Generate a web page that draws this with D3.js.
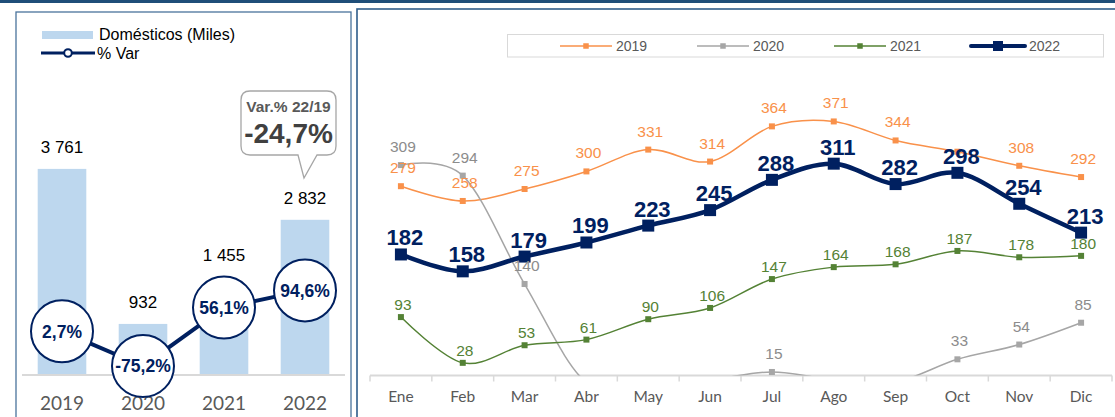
<!DOCTYPE html>
<html>
<head>
<meta charset="utf-8">
<script src="https://cdn.jsdelivr.net/npm/d3@7"></script>
<style>
  body { margin: 0; background: #fff; }
  text { font-family: "Liberation Sans", Arial, sans-serif; }
</style>
</head>
<body>
<div id="chart"></div>
<script>
// ---- data ----
var years = ["2019", "2020", "2021", "2022"];
var domesticos = [3761, 932, 1455, 2832];
var varPct = [2.7, -75.2, 56.1, 94.6];
var varLabels = ["2,7%", "-75,2%", "56,1%", "94,6%"];
var calloutTitle = "Var.% 22/19";
var calloutValue = "-24,7%";

var months = ["Ene", "Feb", "Mar", "Abr", "May", "Jun", "Jul", "Ago", "Sep", "Oct", "Nov", "Dic"];
var v2019 = [279, 258, 275, 300, 331, 314, 364, 371, 344, 328, 308, 292];
var v2020 = [309, 294, 140, 0, 0, 4, 15, 4, 1, 33, 54, 85];
var v2021 = [93, 28, 53, 61, 90, 106, 147, 164, 168, 187, 178, 180];
var v2022 = [182, 158, 179, 199, 223, 245, 288, 311, 282, 298, 254, 213];

var series = [
  { name: "2019", values: v2019, color: "#f9914a", label: "#f9914a", width: 1.5, mark: 6, dy: -13, bold: false, hide: [9] },
  { name: "2020", values: v2020, color: "#a6a6a6", label: "#8c8c8c", width: 1.5, mark: 6, dy: -13, bold: false, hide: [] },
  { name: "2021", values: v2021, color: "#548235", label: "#548235", width: 1.5, mark: 6, dy: -7, bold: false, hide: [] },
  { name: "2022", values: v2022, color: "#002060", label: "#002060", width: 4.5, mark: 12, dy: -9, bold: true, hide: [] }
];

var W = 1115, H = 417;
var svg = d3.select("#chart").append("svg")
  .attr("width", W).attr("height", H);

// top band + panel frames
svg.append("rect").attr("x", 0).attr("y", 0).attr("width", W).attr("height", 3).attr("fill", "#1f4e79");
svg.append("rect").attr("x", 16).attr("y", 12).attr("width", 335).attr("height", 420)
  .attr("fill", "none").attr("stroke", "#4a739c").attr("stroke-width", 1.3);
svg.append("rect").attr("x", 357).attr("y", 9).attr("width", 800).attr("height", 420)
  .attr("fill", "none").attr("stroke", "#2f5d8a").attr("stroke-width", 1.6);

// ================= LEFT CHART =================
var x1 = d3.scaleBand().domain(years).range([21.5, 345.5]).paddingInner(0.4).paddingOuter(0.2);
var y1 = d3.scaleLinear().domain([0, 5000]).range([375, 101]);
var y2 = d3.scaleLinear().domain([-100, 500]).range([377, 110]);

var left = svg.append("g");

left.selectAll(".bar").data(years).enter().append("rect")
  .attr("x", function(d) { return x1(d); })
  .attr("y", function(d, i) { return y1(domesticos[i]); })
  .attr("width", x1.bandwidth())
  .attr("height", function(d, i) { return y1(0) - y1(domesticos[i]); })
  .attr("fill", "#bdd7ee");

// baseline
left.append("line").attr("x1", 22).attr("x2", 345).attr("y1", y1(0)).attr("y2", y1(0))
  .attr("stroke", "#d9d9d9").attr("stroke-width", 2);

// year labels
left.selectAll(".yr").data(years).enter().append("text")
  .attr("x", function(d) { return x1(d) + x1.bandwidth() / 2; })
  .attr("y", 410)
  .attr("text-anchor", "middle")
  .style("font-family", "Lato, sans-serif").style("font-size", "19px").attr("fill", "#595959")
  .text(function(d) { return d; });

var R = 31;
// bar value labels, kept above the circle when it is in the way
left.selectAll(".val").data(years).enter().append("text")
  .attr("x", function(d) { return x1(d) + x1.bandwidth() / 2; })
  .attr("y", function(d, i) {
    return Math.min(y1(domesticos[i]), y2(varPct[i]) - R) - 16;
  })
  .attr("text-anchor", "middle")
  .style("font-size", "17px").attr("fill", "#000")
  .text(function(d, i) { return d3.format(",")(domesticos[i]).replace(/,/g, " "); });

// % var line
var varLine = d3.line()
  .x(function(d, i) { return x1(years[i]) + x1.bandwidth() / 2; })
  .y(function(d) { return y2(d); });
left.append("path").datum(varPct)
  .attr("d", varLine).attr("fill", "none").attr("stroke", "#002060").attr("stroke-width", 4);

var circ = left.selectAll(".vc").data(varPct).enter().append("g")
  .attr("transform", function(d, i) { return "translate(" + (x1(years[i]) + x1.bandwidth() / 2) + "," + y2(d) + ")"; });
circ.append("circle").attr("r", R).attr("fill", "#fff").attr("stroke", "#002060").attr("stroke-width", 2);
circ.append("text").attr("text-anchor", "middle").attr("dy", "0.36em")
  .style("font-size", "17.5px").style("font-weight", "bold").attr("fill", "#002060")
  .text(function(d, i) { return varLabels[i]; });

// legend (left)
left.append("rect").attr("x", 42).attr("y", 31).attr("width", 51).attr("height", 8).attr("fill", "#bdd7ee");
left.append("text").attr("x", 99).attr("y", 40).style("font-size", "16px").attr("fill", "#000").text("Domésticos (Miles)");
left.append("line").attr("x1", 41).attr("x2", 95).attr("y1", 53).attr("y2", 53).attr("stroke", "#002060").attr("stroke-width", 3);
left.append("circle").attr("cx", 68).attr("cy", 53).attr("r", 3.8).attr("fill", "#fff").attr("stroke", "#002060").attr("stroke-width", 2);
left.append("text").attr("x", 97).attr("y", 58.5).style("font-size", "16px").attr("fill", "#000").text("% Var");

// callout
var co = left.append("g");
var bx0 = 241, bx1 = 336, by0 = 91, by1 = 155, cr = 9;
co.append("path")
  .attr("d", "M" + (bx0 + cr) + "," + by0 + " H" + (bx1 - cr) + " Q" + bx1 + "," + by0 + " " + bx1 + "," + (by0 + cr) +
    " V" + (by1 - cr) + " Q" + bx1 + "," + by1 + " " + (bx1 - cr) + "," + by1 +
    " H317 L304,178 L298," + by1 + " H" + (bx0 + cr) + " Q" + bx0 + "," + by1 + " " + bx0 + "," + (by1 - cr) +
    " V" + (by0 + cr) + " Q" + bx0 + "," + by0 + " " + (bx0 + cr) + "," + by0 + " Z")
  .attr("fill", "#fff").attr("stroke", "#a6a6a6").attr("stroke-width", 1.3);
co.append("text").attr("x", 288.5).attr("y", 112).attr("text-anchor", "middle")
  .style("font-size", "15.5px").style("font-weight", "bold").attr("fill", "#595959").text(calloutTitle);
co.append("text").attr("x", 288.5).attr("y", 143).attr("text-anchor", "middle")
  .style("font-size", "28px").style("font-weight", "bold").attr("fill", "#404040").text(calloutValue);

// ================= RIGHT CHART =================
var x = d3.scaleBand().domain(months).range([370, 1112]);
var y = d3.scaleLinear().domain([10, 410]).range([375.5, 94]);
var cx = function(i) { return x(months[i]) + x.bandwidth() / 2; };

var right = svg.append("g");
right.append("clipPath").attr("id", "plotClip")
  .append("rect").attr("x", 360).attr("y", 60).attr("width", 760).attr("height", 375.5 - 60);

// axis
var xAxis = right.append("g").attr("transform", "translate(0,375.5)")
  .call(d3.axisBottom(x).tickSize(0).tickPadding(0));
xAxis.select(".domain").remove();
xAxis.selectAll("text").remove();
right.append("line").attr("x1", 370).attr("x2", 1112).attr("y1", 375.5).attr("y2", 375.5)
  .attr("stroke", "#d9d9d9").attr("stroke-width", 2);
var bounds = months.map(function(m) { return x(m); }).concat([1112]);
right.selectAll(".tk").data(bounds).enter().append("line")
  .attr("x1", function(d) { return d; }).attr("x2", function(d) { return d; })
  .attr("y1", 375.5).attr("y2", 381.5)
  .attr("stroke", "#d9d9d9").attr("stroke-width", 1.5);
right.selectAll(".ml").data(months).enter().append("text")
  .attr("x", function(d, i) { return cx(i); }).attr("y", 402)
  .attr("text-anchor", "middle")
  .style("font-family", "Lato, sans-serif").style("font-size", "15.5px").attr("fill", "#595959")
  .text(function(d) { return d; });

var line = d3.line()
  .x(function(d, i) { return cx(i); })
  .y(function(d) { return y(d); })
  .curve(d3.curveCardinal.tension(0));

var plot = right.append("g").attr("clip-path", "url(#plotClip)");
series.forEach(function(s) {
  var g = plot.append("g");
  g.append("path").datum(s.values)
    .attr("d", line).attr("fill", "none")
    .attr("stroke", s.color).attr("stroke-width", s.width).attr("stroke-linejoin", "round");
  g.selectAll("rect").data(s.values).enter().append("rect")
    .attr("x", function(d, i) { return cx(i) - s.mark / 2; })
    .attr("y", function(d) { return y(d) - s.mark / 2; })
    .attr("width", s.mark).attr("height", s.mark)
    .attr("fill", s.color);
});
// labels on top of all lines (points below the axis have no visible label)
series.forEach(function(s) {
  var pts = s.values.map(function(v, i) { return { v: v, i: i }; })
    .filter(function(p) { return p.v >= y.domain()[0] && s.hide.indexOf(p.i) < 0; });
  plot.append("g").selectAll("text").data(pts).enter().append("text")
    .attr("x", function(p) { return cx(p.i) + (s.bold ? 4 : 2); })
    .attr("y", function(p) { return y(p.v) + s.dy; })
    .attr("text-anchor", "middle")
    .style("font-size", s.bold ? "22px" : "15.5px")
    .style("font-weight", s.bold ? "bold" : "normal")
    .attr("fill", s.label)
    .text(function(p) { return p.v; });
});

// legend (right)
var lg = right.append("g");
lg.append("rect").attr("x", 507.5).attr("y", 34.5).attr("width", 596).attr("height", 22.5)
  .attr("fill", "#fff").attr("stroke", "#d9d9d9").attr("stroke-width", 1);
series.forEach(function(s, i) {
  var lx = 560 + i * 137;
  var lw = s.bold ? 54 : 52;
  lg.append("line").attr("x1", lx).attr("x2", lx + lw).attr("y1", 46).attr("y2", 46)
    .attr("stroke", s.color).attr("stroke-width", s.bold ? 4 : 1.5).attr("stroke-linecap", s.bold ? "round" : "butt");
  var m = s.bold ? 10 : 5.5;
  lg.append("rect").attr("x", lx + lw / 2 - m / 2).attr("y", 46 - m / 2).attr("width", m).attr("height", m).attr("fill", s.color);
  lg.append("text").attr("x", lx + lw + 4).attr("y", 51)
    .style("font-size", "14px").attr("fill", "#595959").text(s.name);
});
</script>
</body>
</html>
